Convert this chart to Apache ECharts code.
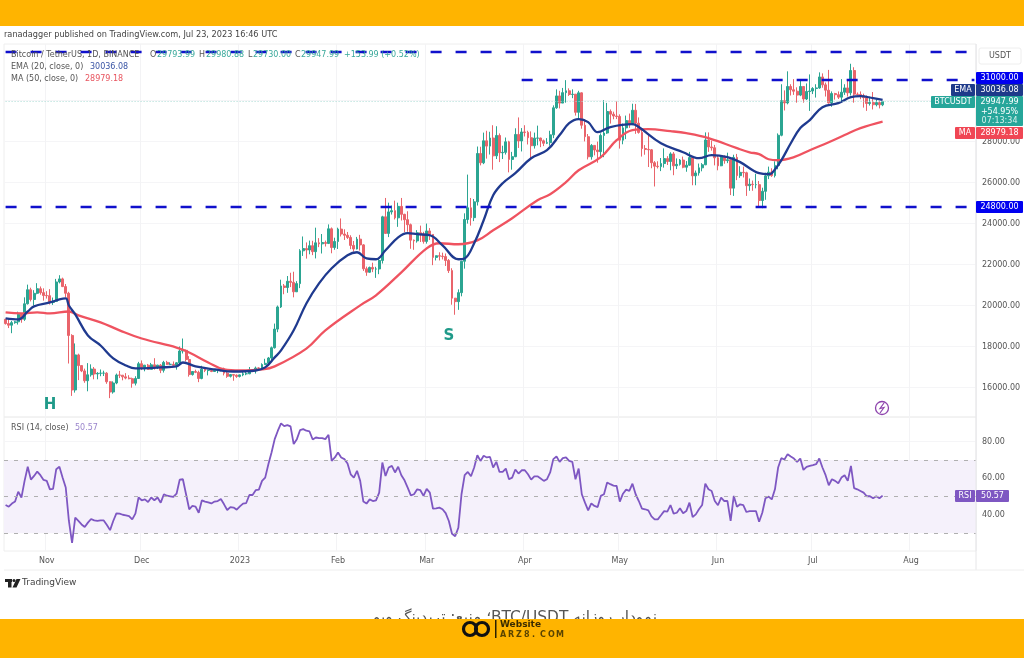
<!DOCTYPE html>
<html>
<head>
<meta charset="utf-8">
<title>BTC/USDT</title>
<script src="https://cdn.jsdelivr.net/npm/echarts@6/dist/echarts.min.js"></script>
<style>
html,body{margin:0;padding:0;background:#fff;}
#chart{width:1024px;height:658px;}
</style>
</head>
<body>
<div id="chart"></div>
<script>
// daily candles, Oct 19 2022 - Jul 23 2023, one line per month
const opens = [
19330,19120,19040,19165,19205,19570,19330,20085,20770,20295,20595,20820,20630,
20490,20480,20150,20205,21150,21300,20925,20600,18540,15880,17590,17070,16810,16330,16620,16900,16660,16690,16700,16700,16280,15780,16220,16610,16600,16520,16460,16430,16210,16440,
17160,16970,17090,16885,17105,16970,17090,16840,17225,17130,17130,17085,17205,17780,17815,17365,16630,16780,16740,16440,16895,16825,16830,16780,16835,16835,16920,16700,16545,16630,16600,
16540,16615,16670,16670,16850,16830,16950,16945,17120,17180,17440,17940,18850,19930,20955,20880,21185,21130,20670,21070,22670,22780,22710,22920,22630,23060,23010,23075,23030,23745,22830,
23125,23730,23490,23430,23325,22935,22760,23240,22960,21795,21625,21860,21780,21785,22200,24330,23520,24570,24630,24280,24840,24450,24190,23945,23190,23155,23555,23490,
23130,23640,23470,22350,22430,22410,22390,22200,21705,20360,20190,20630,22160,24200,24770,24290,25060,27420,26965,28040,27780,28175,27305,28300,27455,27475,27990,27130,27265,28350,28030,
28470,28450,28190,27800,28170,28175,28040,27920,27950,28330,29650,30230,29880,30390,30480,30300,30315,29430,30380,28800,28240,27260,27815,27590,27510,28300,28420,29470,29340,29250,
29230,28070,28670,29025,28835,29530,28900,28450,27660,27620,27600,26970,26800,26780,26930,27170,27030,27400,26820,26890,27100,26750,26850,27220,26330,26470,26720,26870,28080,27740,27700,
27210,26820,27250,27070,27115,25730,27230,26340,26500,26480,25850,25920,25900,25900,25125,25575,26330,26510,26340,26840,28310,29995,29890,30690,30530,30460,30270,30690,30080,30445,
30470,30590,30620,31155,30770,30510,29895,30345,30290,30170,30410,30620,30380,31470,30315,30300,30230,30145,29860,29910,29800,29905,29794
];
const closes = [
19120,19040,19165,19205,19570,19330,20085,20770,20295,20595,20820,20630,20490,
20480,20150,20205,21150,21300,20925,20600,18540,15880,17590,17070,16810,16330,16620,16900,16660,16690,16700,16700,16280,15780,16220,16610,16600,16520,16460,16430,16210,16440,17160,
16970,17090,16885,17105,16970,17090,16840,17225,17130,17130,17085,17205,17780,17815,17365,16630,16780,16740,16440,16895,16825,16830,16780,16835,16835,16920,16700,16545,16630,16600,16540,
16615,16670,16670,16850,16830,16950,16945,17120,17180,17440,17940,18850,19930,20955,20880,21185,21130,20670,21070,22670,22780,22710,22920,22630,23060,23010,23075,23030,23745,22830,23125,
23730,23490,23430,23325,22935,22760,23240,22960,21795,21625,21860,21780,21785,22200,24330,23520,24570,24630,24280,24840,24450,24190,23945,23190,23155,23555,23490,23130,
23640,23470,22350,22430,22410,22390,22200,21705,20360,20190,20630,22160,24200,24770,24290,25060,27420,26965,28040,27780,28175,27305,28300,27455,27475,27990,27130,27265,28350,28030,28470,
28450,28190,27800,28170,28175,28040,27920,27950,28330,29650,30230,29880,30390,30480,30300,30315,29430,30380,28800,28240,27260,27815,27590,27510,28300,28420,29470,29340,29250,29230,
28070,28670,29025,28835,29530,28900,28450,27660,27620,27600,26970,26800,26780,26930,27170,27030,27400,26820,26890,27100,26750,26850,27220,26330,26470,26720,26870,28080,27740,27700,27210,
26820,27250,27070,27115,25730,27230,26340,26500,26480,25850,25920,25900,25900,25125,25575,26330,26510,26340,26840,28310,29995,29890,30690,30530,30460,30270,30690,30080,30445,30470,
30590,30620,31155,30770,30510,29895,30345,30290,30170,30410,30620,30380,31470,30315,30300,30230,30145,29860,29910,29800,29905,29795,29948
];
const lows = [
19070,18900,18650,19110,19070,19160,19250,20050,20200,20000,20550,20530,20240,
20340,20050,20030,20180,21080,20900,20400,17170,15590,15750,16360,16750,16230,15815,16530,16400,16400,16550,16560,16180,15480,15700,16160,16460,16350,16400,16400,15990,16100,16430,
16850,16790,16860,16880,16870,16900,16700,16730,17100,17090,17070,16870,17090,17660,17270,16530,16580,16700,16260,16400,16750,16590,16750,16770,16700,16790,16590,16470,16490,16330,16470,
16490,16550,16600,16650,16750,16680,16910,16910,17100,17150,17320,17900,18700,19880,20550,20620,20900,20400,20660,20850,22420,22290,22500,22460,22300,22850,22540,22880,23000,22550,22720,
22760,23370,23200,23250,22750,22630,22740,22680,21690,21450,21600,21630,21350,21530,22050,23500,23340,24440,24200,23840,24150,23580,23600,22770,22720,23070,23100,23020,
23020,23200,21970,22200,22200,22250,21930,21590,20040,19550,19790,20450,21800,24000,23900,24120,24880,26840,26900,27170,27370,26630,27150,27000,27150,27370,26500,26630,27240,27690,27520,
28250,27860,27200,27660,27820,27730,27780,27880,27800,28170,29600,29620,29880,29900,30230,30120,29270,29100,28630,28010,27130,27120,27330,26970,27200,27240,28380,28880,29090,29100,
27660,27870,28120,28670,28800,28380,28390,27270,27360,26760,26700,25810,26690,26560,26730,26860,26600,26360,26660,26830,26700,26530,26820,25870,25870,26340,26550,26850,27500,27560,26840,
26600,26800,26920,26950,25390,25350,26120,26230,26250,25350,25600,25600,25720,24820,24750,25160,26170,26280,26250,26650,28260,29520,29820,30250,30280,29900,30220,29900,30030,29500,
30320,30150,30580,30630,30200,29850,29700,30050,30080,29950,30280,30200,30250,29900,30250,30070,29660,29500,29760,29570,29720,29620,29730
];
const highs = [
19350,19350,19250,19250,19700,19600,20400,21020,20870,20750,21090,20930,20840,
20700,20800,20390,21300,21480,21360,21050,20670,18600,18150,17650,17070,16920,17190,17130,17000,16750,16880,16820,16750,16300,16300,16680,16810,16600,16700,16600,16480,16550,17250,
17320,17100,17150,17200,17430,17110,17140,17300,17300,17230,17270,17240,18000,18390,17850,17530,16800,16870,16820,17060,16920,16870,16950,16860,16860,16940,16970,16780,16660,16640,16640,
16630,16790,16760,17000,16880,17020,16980,17180,17400,17490,18000,19120,20000,21260,21050,21440,21600,21650,21190,22750,23370,23080,23170,23160,23800,23290,23490,23170,23960,23810,23310,
23800,24250,23720,23590,23430,23150,23350,23450,23000,21900,21900,22090,21890,22320,24380,25250,25020,24880,25120,25020,25250,24480,24600,24000,23220,23680,23900,23600,
24000,23780,23480,22440,22600,22580,22540,22270,21820,20370,20790,22180,24500,26390,25250,25200,27760,27750,28440,28530,28480,28800,28750,28400,27800,28200,28040,27500,28650,29180,28660,
28800,28530,28500,28440,28780,28190,28100,28170,28530,29770,30550,30480,30620,31000,30600,30550,30320,30480,30400,29100,28370,27880,27820,28000,28400,30020,29890,29570,29460,29960,
29330,28880,29270,29370,29850,29840,29180,28630,27830,28330,27640,27050,27040,27200,27670,27290,27480,27490,27180,27150,27270,27050,27500,27220,26590,26930,26950,28450,28450,28050,27840,
27350,27300,27330,27460,27140,27360,27400,26800,26780,26530,26200,26100,26430,26080,25750,26480,26780,26700,27040,28400,30800,30500,31430,30800,31050,30650,31000,30700,30840,31280,
30660,30800,31380,31330,30880,31500,30450,30380,30450,31050,30800,30980,31800,31630,30400,30450,30340,30250,30190,30420,30060,29990,29981
];

// EMA and MA at these day indexes
const emaDays = [0,4,7,9,14,17,19,20,22,26,30,34,38,41,49,54,56,60,66,72,79,82,85,87,91,95,99,103,108,111,114,117,120,124,127,130,134,138,143,145,148,151,154,157,161,166,171,175,178,181,184,187,191,198,200,207,214,219,223,228,232,238,241,242,245,248,251,254,258,263,267,270,274,277];
const emaValues = [19370,19320,19710,19960,20150,20300,20350,20000,19570,18540,18050,17420,17075,16930,16980,17030,17220,17030,16880,16780,16830,16980,17470,17810,18790,20100,21080,21820,22450,22600,22300,22260,22700,23330,23530,23480,23430,22940,22260,22300,23040,24160,25380,25970,26460,27190,27580,28320,28900,29100,28950,28460,28710,28850,28710,27920,27480,27190,27340,27240,27000,26460,26410,26460,27090,27920,28660,29050,29680,29880,30170,30220,30120,30036];
const maDays = [0,5,10,14,20,23,30,36,43,54,58,64,69,74,81,85,95,101,112,117,125,133,137,143,149,154,160,168,172,177,181,188,193,198,203,210,215,222,231,235,238,241,244,249,254,260,265,270,277];
const maValues = [19670,19620,19670,19620,19710,19520,19180,18790,18390,17950,17710,17220,16880,16830,16880,17030,17900,18790,20010,20500,21620,22790,23040,22990,23180,23670,24260,25140,25430,26020,26600,27240,28070,28560,28610,28510,28410,28170,27680,27480,27390,27140,27090,27240,27580,27970,28320,28660,28979];

// RSI (14), one value a day
const rsiValues = [
45.4,44.5,46.2,47.3,52.7,49.5,58.6,66.3,59.3,61.3,63.7,61.7,59.1,
58.6,54,54.2,65,66.3,60.4,55,36.7,24.8,38.5,36.7,34.8,33.4,35.8,37.8,37,36.7,37,37,34.5,31.7,36.7,40.9,40.7,40.1,39.8,39.4,37.6,40.7,49.5,
48,48.5,47.1,49.5,48,49.5,46.7,51.3,50.5,50.2,49.8,51.6,59.3,59.5,51.3,43.1,44.9,44.5,41.2,48,47.3,46.9,46.3,47.3,47.6,48.7,45.8,42.7,44.3,44,42.9,
44.7,46.2,46.5,50.9,50.9,53.5,53.8,58.6,60.4,67.7,74.1,81.4,86,90,88.5,89.1,88.4,78.7,81.4,86.3,86.9,86,85.6,81.2,82.3,82,82,81.4,83.8,69.5,71.4,
74.1,71.4,70.5,68.1,62.2,60.4,64.1,58.6,47.3,46.2,48.5,47.6,48,52.2,68.6,61.3,65.9,66.8,63.2,66.3,61.7,58.9,54.9,50.7,51.3,54,53.5,50.4,54.2,52.2,
43.4,43.6,44,43.1,41,36.7,29.7,28.4,33,51.3,61.7,63.5,61.1,65.9,72.6,69.5,72.3,71.4,71.7,65.9,69,63.5,63.5,65.3,59.5,60.4,64.8,62.6,64.4,64.4,62.2,
59.3,61.1,61.1,59.9,58.6,59.5,63.2,70.5,71.9,69,71,71.4,69.5,69,59.5,65.3,51.3,46.7,42.5,46.3,44.9,44.3,50.4,51.3,57.7,56.8,56,55.8,47.3,51.6,
53.8,53.1,57.1,51.3,47.6,43.4,43.1,42.5,39.2,37.6,37.6,39.8,42.1,41.8,45.4,40.7,41.2,43.6,40.9,42.1,46.7,38.9,40.3,43.1,45.4,57.1,54,53.1,47.6,45.3,49.5,
47.6,47.6,36.7,50.4,44.5,45.8,45.4,41.6,42.1,42.1,42.1,36.3,41.2,49.1,50,48.5,54,65.9,71,70.3,73.2,71.9,70.8,69,70.8,
64.6,66.3,66.8,67.2,67.7,70.8,65.9,61.7,56.2,59.5,58.6,57.3,60.4,61.7,58.6,66.8,54.6,54,53.1,52.2,50.2,50.2,49.1,50.2,49.1,50.57
];

// axes
const dayCount = 307;
const monthStarts = [13,43,74,105,133,164,194,225,255,286];
const monthLabels = ['Nov','Dec','2023','Feb','Mar','Apr','May','Jun','Jul','Aug'];
const priceTicks = [16000,18000,20000,22000,24000,26000,28000,30000];
const rsiTicks = [40,60,80];
const rsiLevels = [30,50,70];
const lastPrice = 29947.99;
const FONT = '"DejaVu Sans", sans-serif';

const days = [];
for (let i = 0; i < dayCount; i++) days.push('d' + i);
const candles = opens.map((o, i) => [o, closes[i], lows[i], highs[i]]);

const isMonth = index => monthStarts.indexOf(index) >= 0;

function monthAxis(gridIndex, showLabel) {
  return {
    type: 'category', gridIndex, data: days, boundaryGap: true,
    axisLine: {show: false}, axisTick: {show: false},
    axisLabel: {
      show: showLabel, interval: isMonth, margin: 6, color: '#555', fontSize: 8, fontFamily: FONT,
      formatter: (v, i) => monthLabels[monthStarts.indexOf(i)]
    },
    splitLine: {show: true, interval: isMonth, lineStyle: {color: '#f3f3f5', width: 1}}
  };
}

const chart = echarts.init(document.getElementById('chart'), null, {renderer: 'canvas'});

chart.setOption({
  animation: false,
  backgroundColor: '#ffffff',
  grid: [
    {left: 4, top: 44, width: 972, height: 373, show: true, borderColor: '#eeeeee', borderWidth: 1},
    {left: 4, top: 417, width: 972, height: 134, show: true, borderColor: '#eeeeee', borderWidth: 1}
  ],
  xAxis: [monthAxis(0, false), monthAxis(1, true)],
  yAxis: [
    {
      type: 'value', gridIndex: 0, position: 'right', min: 14560, max: 32764,
      axisLine: {show: false}, axisTick: {show: false, customValues: priceTicks},
      axisLabel: {
        customValues: priceTicks, margin: 6, color: '#555', fontSize: 8, fontFamily: FONT,
        formatter: v => v.toFixed(2)
      },
      splitLine: {lineStyle: {color: '#f5f5f7'}}
    },
    {
      type: 'value', gridIndex: 1, position: 'right', min: 20.3, max: 93.5,
      axisLine: {show: false}, axisTick: {show: false, customValues: rsiTicks},
      axisLabel: {
        customValues: rsiTicks, margin: 6, color: '#555', fontSize: 8, fontFamily: FONT,
        formatter: v => v.toFixed(2)
      },
      splitLine: {lineStyle: {color: '#f5f5f7'}}
    }
  ],
  series: [
    {
      name: 'BTCUSDT', type: 'candlestick', xAxisIndex: 0, yAxisIndex: 0,
      data: candles, barWidth: 2.4,
      itemStyle: {color: '#2ba592', color0: '#e9646b', borderColor: '#2ba592', borderColor0: '#e9646b', borderWidth: 1},
      markLine: {
        silent: true, symbol: 'none', label: {show: false}, animation: false,
        lineStyle: {color: '#a9dbd4', type: [1, 2], width: 1},
        data: [[{coord: [0, lastPrice]}, {coord: [dayCount - 1, lastPrice]}]]
      }
    },
    {
      name: 'MA', type: 'line', xAxisIndex: 0, yAxisIndex: 0, showSymbol: false, smooth: 0.4,
      data: maDays.map((d, i) => [d, maValues[i]]),
      lineStyle: {color: '#ef5360', width: 2.3},
      markPoint: {
        silent: true, symbol: 'circle', symbolSize: 0,
        label: {show: true, formatter: '{b}', color: '#1f9a89', fontSize: 15, fontWeight: 'bold', fontFamily: FONT},
        data: [{name: 'H', coord: [14, 15120]}, {name: 'S', coord: [140, 18490]}]
      }
    },
    {
      name: 'EMA', type: 'line', xAxisIndex: 0, yAxisIndex: 0, showSymbol: false, smooth: 0.4,
      data: emaDays.map((d, i) => [d, emaValues[i]]),
      lineStyle: {color: '#1f3a8f', width: 2.3},
      markLine: {
        silent: true, symbol: 'none', label: {show: false}, animation: false,
        lineStyle: {color: '#1010cc', type: [11, 14], width: 2.4},
        data: [
          [{coord: [0, 32400]}, {coord: [dayCount - 1, 32400]}],
          [{coord: [163, 31000]}, {coord: [dayCount - 1, 31000]}],
          [{coord: [0, 24800]}, {coord: [dayCount - 1, 24800]}]
        ]
      }
    },
    {
      name: 'RSI', type: 'line', xAxisIndex: 1, yAxisIndex: 1, showSymbol: false,
      data: rsiValues,
      lineStyle: {color: '#7e57c2', width: 1.8},
      markArea: {
        silent: true, itemStyle: {color: '#f5f1fb'},
        data: [[{yAxis: rsiLevels[0]}, {yAxis: rsiLevels[2]}]]
      },
      markLine: {
        silent: true, symbol: 'none', label: {show: false}, animation: false,
        lineStyle: {color: '#b0b0b0', type: [4, 6], width: 1},
        data: rsiLevels.map(v => ({yAxis: v}))
      }
    }
  ],
  graphic: buildGraphics()
});

function txt(x, y, text, fill, size, extra) {
  return {
    type: 'text', z: 50,
    style: Object.assign({
      x, y, text, fill,
      font: (size || 8) + 'px ' + FONT,
      align: 'left', verticalAlign: 'middle'
    }, extra || {})
  };
}

function box(x, y, width, height, fill, extra) {
  return {type: 'rect', z: 40, shape: Object.assign({x, y, width, height}, extra || {}), style: {fill}};
}

function priceTag(y, h, value, color, label, labelWidth) {
  const out = [box(976, y, 47, h, color, {r: 1}), txt(999.5, y + h / 2, value, '#fff', 8, {align: 'center'})];
  if (label) {
    out.push(box(975 - labelWidth, y, labelWidth, h, color, {r: 1}));
    out.push(txt(975 - labelWidth / 2, y + h / 2, label, '#fff', 8, {align: 'center'}));
  }
  return out;
}

function buildGraphics() {
  const teal = '#26a69a';
  const tealText = '#3aa99b';
  const g = [];

  // top and bottom banners
  g.push(box(0, 0, 1024, 26, '#ffb400'));
  g.push(txt(4, 35, 'ranadagger published on TradingView.com, Jul 23, 2023 16:46 UTC', '#444', 8.2));

  // legend rows
  g.push(txt(11, 55, 'Bitcoin / TetherUS, 1D, BINANCE', '#555', 8));
  g.push(txt(150, 55, 'O', '#555', 8));
  g.push(txt(157, 55, '29793.99', tealText, 8));
  g.push(txt(199, 55, 'H', '#555', 8));
  g.push(txt(206, 55, '29980.88', tealText, 8));
  g.push(txt(248, 55, 'L', '#555', 8));
  g.push(txt(253, 55, '29730.00', tealText, 8));
  g.push(txt(295, 55, 'C', '#555', 8));
  g.push(txt(301, 55, '29947.99', tealText, 8));
  g.push(txt(344, 55, '+153.99 (+0.52%)', tealText, 8));
  g.push(txt(11, 67, 'EMA (20, close, 0)', '#555', 8));
  g.push(txt(90, 67, '30036.08', '#3a55a5', 8));
  g.push(txt(11, 79, 'MA (50, close, 0)', '#555', 8));
  g.push(txt(85, 79, '28979.18', '#e8555f', 8));
  g.push(txt(11, 428, 'RSI (14, close)', '#555', 8));
  g.push(txt(75, 428, '50.57', '#9a85cc', 8));

  // right scale frame
  g.push({type: 'line', z: 30, shape: {x1: 976, y1: 44, x2: 976, y2: 570}, style: {stroke: '#e6e6e8', lineWidth: 1}});
  g.push({type: 'line', z: 30, shape: {x1: 4, y1: 570, x2: 1024, y2: 570}, style: {stroke: '#eeeeee', lineWidth: 1}});
  g.push({type: 'rect', z: 30, shape: {x: 979, y: 48, width: 42, height: 16, r: 2}, style: {fill: '#fff', stroke: '#eeeeee', lineWidth: 1}});
  g.push(txt(1000, 56, 'USDT', '#555', 8, {align: 'center'}));

  // price tags
  g.push(...priceTag(72, 12, '31000.00', '#0000f0'));
  g.push(...priceTag(84, 12, '30036.08', '#1e3a8a', 'EMA', 24));
  g.push(box(976, 96, 47, 30, teal, {r: 1}));
  g.push(box(931, 96, 44, 12, teal, {r: 1}));
  g.push(txt(953, 102, 'BTCUSDT', '#fff', 8, {align: 'center'}));
  g.push(txt(999.5, 102, '29947.99', '#fff', 8, {align: 'center'}));
  g.push(txt(999.5, 112, '+54.95%', '#fff', 8, {align: 'center'}));
  g.push(txt(999.5, 121, '07:13:34', '#d5f0ec', 8, {align: 'center'}));
  g.push(...priceTag(127, 12, '28979.18', '#f04654', 'MA', 20));
  g.push(...priceTag(201, 12, '24800.00', '#0000f0'));
  g.push(box(976, 490, 33, 12, '#7e57c2', {r: 1}));
  g.push(txt(992.5, 496, '50.57', '#fff', 8, {align: 'center'}));
  g.push(box(955, 490, 20, 12, '#7e57c2', {r: 1}));
  g.push(txt(965, 496, 'RSI', '#fff', 8, {align: 'center'}));

  // lightning badge near the last bar
  g.push({type: 'circle', z: 30, shape: {cx: 882, cy: 408, r: 6.5}, style: {fill: '#fff', stroke: '#8e44ad', lineWidth: 1.3}});
  g.push({type: 'polyline', z: 31, shape: {points: [[884, 403], [880, 408.5], [884, 407.5], [880, 413]]}, style: {stroke: '#8e44ad', fill: 'none', lineWidth: 1.2}});

  // TradingView mark
  g.push(box(5, 579, 7, 3, '#222'));
  g.push(box(8, 579, 3.5, 8.5, '#222'));
  g.push({type: 'circle', z: 40, shape: {cx: 14, cy: 580.5, r: 1.5}, style: {fill: '#222'}});
  g.push({type: 'polygon', z: 40, shape: {points: [[16.5, 579], [20.5, 579], [16.5, 587.5], [12.5, 587.5]]}, style: {fill: '#222'}});
  g.push(txt(22, 583, 'TradingView', '#444', 9));

  // caption sits behind the bottom banner, only its top shows
  g.push(txt(515, 618, '\u202Bنمودار روزانه BTC/USDT؛ منبع: تریدینگ ویو\u202C', '#555', 15.4, {align: 'center'}));
  g.push({type: 'rect', z: 60, shape: {x: 0, y: 619, width: 1024, height: 39}, style: {fill: '#ffb400'}});

  // site logo on the banner
  g.push({type: 'circle', z: 70, shape: {cx: 470, cy: 629, r: 6.5}, style: {fill: 'none', stroke: '#111', lineWidth: 3.2}});
  g.push({type: 'circle', z: 70, shape: {cx: 482, cy: 629, r: 6.5}, style: {fill: 'none', stroke: '#111', lineWidth: 3.2}});
  g.push({type: 'rect', z: 70, shape: {x: 495, y: 620, width: 1.5, height: 18}, style: {fill: '#2a2000'}});
  const site = txt(500, 624.5, 'Website', '#3a2c00', 9, {font: 'bold 9px ' + FONT});
  site.z = 70;
  g.push(site);
  // ARZ8.COM is letter-spaced, one text per letter
  'ARZ8.COM'.split('').forEach((ch, i) => {
    const t = txt(500 + i * 8, 635, ch, '#5a4400', 8, {font: 'bold 8px ' + FONT});
    t.z = 70;
    g.push(t);
  });

  return g;
}
</script>
</body>
</html>
